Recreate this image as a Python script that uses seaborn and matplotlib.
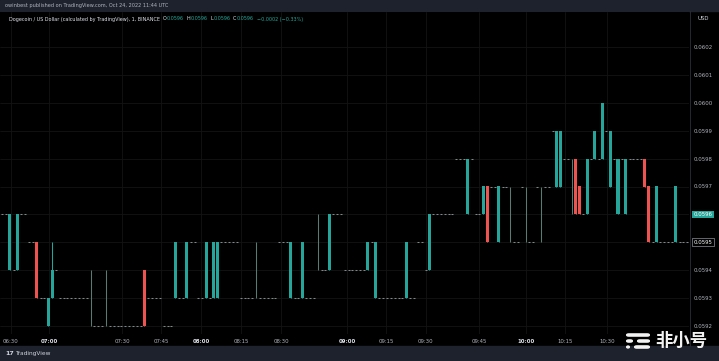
import numpy as np
import pandas as pd
import matplotlib
matplotlib.use("Agg")
import matplotlib.pyplot as plt
import matplotlib.transforms as mtransforms
from matplotlib.patches import Rectangle, FancyBboxPatch
from matplotlib.lines import Line2D
import seaborn as sns

# ---------------- data ----------------
# non-flat 1-minute candles: bar index, open, high, low, close
candle_idx = [2, 4, 9, 12, 13, 23, 27, 37, 45, 48, 53, 55, 56, 66, 75, 78, 82, 85,
              95, 97, 105, 111, 121, 125, 126, 129, 132, 136, 140, 144, 145, 148,
              149, 150, 152, 154, 156, 158, 160, 162, 167, 168, 170, 175]
candle_open = [0.0594, 0.0594, 0.0595, 0.0592, 0.0593, 0.0592, 0.0592, 0.0594, 0.0593,
               0.0593, 0.0593, 0.0593, 0.0593, 0.0593, 0.0593, 0.0593, 0.0594, 0.0594,
               0.0594, 0.0593, 0.0593, 0.0594, 0.0596, 0.0596, 0.0597, 0.0595, 0.0597,
               0.0595, 0.0597, 0.0597, 0.0597, 0.0598, 0.0598, 0.0597, 0.0596, 0.0598,
               0.0598, 0.0597, 0.0596, 0.0596, 0.0598, 0.0597, 0.0595, 0.0595]
candle_close = [0.0596, 0.0596, 0.0593, 0.0593, 0.0594, 0.0592, 0.0592, 0.0592, 0.0595,
                0.0595, 0.0595, 0.0595, 0.0595, 0.0593, 0.0595, 0.0595, 0.0594, 0.0596,
                0.0595, 0.0595, 0.0595, 0.0596, 0.0598, 0.0597, 0.0595, 0.0597, 0.0597,
                0.0595, 0.0597, 0.0599, 0.0599, 0.0598, 0.0596, 0.0596, 0.0598, 0.0599,
                0.0600, 0.0599, 0.0598, 0.0598, 0.0597, 0.0595, 0.0597, 0.0597]
candle_high = [0.0596, 0.0596, 0.0595, 0.0593, 0.0595, 0.0594, 0.0594, 0.0594, 0.0595,
               0.0595, 0.0595, 0.0595, 0.0595, 0.0595, 0.0595, 0.0595, 0.0596, 0.0596,
               0.0595, 0.0595, 0.0595, 0.0596, 0.0598, 0.0597, 0.0597, 0.0597, 0.0597,
               0.0597, 0.0597, 0.0599, 0.0599, 0.0598, 0.0598, 0.0597, 0.0598, 0.0599,
               0.0600, 0.0599, 0.0598, 0.0598, 0.0598, 0.0597, 0.0597, 0.0597]
candle_low = [0.0594, 0.0594, 0.0593, 0.0592, 0.0593, 0.0592, 0.0592, 0.0592, 0.0593,
              0.0593, 0.0593, 0.0593, 0.0593, 0.0593, 0.0593, 0.0593, 0.0594, 0.0594,
              0.0594, 0.0593, 0.0593, 0.0594, 0.0596, 0.0596, 0.0595, 0.0595, 0.0595,
              0.0595, 0.0595, 0.0597, 0.0597, 0.0596, 0.0596, 0.0596, 0.0596, 0.0598,
              0.0598, 0.0597, 0.0596, 0.0596, 0.0597, 0.0595, 0.0595, 0.0595]

# runs of flat candles (open = high = low = close)
flat_start = [0, 3, 5, 7, 10, 14, 15, 24, 28, 38, 42, 46, 49, 51, 54, 57, 62, 67, 72,
              76, 79, 83, 86, 89, 96, 98, 106, 108, 110, 112, 118, 122, 123, 127, 130,
              133, 135, 137, 139, 141, 143, 146, 151, 153, 155, 157, 159, 161, 163,
              169, 171, 176]
flat_end = [1, 3, 6, 8, 11, 14, 22, 26, 36, 41, 44, 47, 50, 52, 54, 61, 65, 71, 74,
            77, 81, 84, 88, 94, 96, 104, 107, 109, 110, 117, 120, 122, 124, 128, 131,
            134, 135, 138, 139, 142, 143, 147, 151, 153, 155, 157, 159, 161, 166,
            169, 174, 178]
flat_price = [0.0596, 0.0594, 0.0596, 0.0595, 0.0593, 0.0594, 0.0593, 0.0592, 0.0592,
              0.0593, 0.0592, 0.0593, 0.0595, 0.0593, 0.0593, 0.0595, 0.0593, 0.0593,
              0.0595, 0.0593, 0.0593, 0.0594, 0.0596, 0.0594, 0.0595, 0.0593, 0.0593,
              0.0595, 0.0594, 0.0596, 0.0598, 0.0598, 0.0596, 0.0597, 0.0597, 0.0595,
              0.0597, 0.0595, 0.0597, 0.0597, 0.0599, 0.0598, 0.0596, 0.0598, 0.0598,
              0.0599, 0.0598, 0.0598, 0.0598, 0.0595, 0.0595, 0.0595]

time_tick_bar = [2.3, 12.2, 31.2, 41.3, 51.7, 62.1, 72.5, 89.6, 99.7, 110.1, 123.9,
                 136.1, 146.2, 157.1]
time_tick_label = ["06:30", "07:00", "07:30", "07:45", "08:00", "08:15", "08:30",
                   "09:00", "09:15", "09:30", "09:45", "10:00", "10:15", "10:30"]
price_ticks = [0.0592, 0.0593, 0.0594, 0.0595, 0.0596, 0.0597, 0.0598, 0.0599,
               0.0600, 0.0601, 0.0602]
last_price = 0.0596
line_price = 0.0595

# ---------------- style ----------------
UP = "#26a69a"
DOWN = "#ef5350"
DOJI = "#5a7a74"
FLAT = "#7f8a8a"
TXT = "#b2b5be"
PANEL = "#1e222d"

sns.set_style("dark", {"axes.facecolor": "#000000", "figure.facecolor": "#000000"})
plt.rcParams["font.family"] = ["DejaVu Sans"]

W, H = 719, 361
fig = plt.figure(figsize=(W / 100, H / 100), dpi=100, facecolor="#000000")


def fx(x):
    return x / W


def fy(y):
    return 1 - y / H


top_px, bot_px, right_px = 12, 334, 689
ax = fig.add_axes([0, fy(bot_px), right_px / W, (bot_px - top_px) / H])
ax.set_facecolor("#000000")

# price scale: 0.0602 at y=47 px, 27.9 px per 0.0001
px_per_tick = 27.9
ax.set_ylim(0.0602 - (bot_px - 47) / px_per_tick * 1e-4,
            0.0602 + (47 - top_px) / px_per_tick * 1e-4)
bar_px = 3.85
ax.set_xlim(-2 / bar_px, (right_px - 2) / bar_px)

# flat candles
rows = [(i, p) for s, e, p in zip(flat_start, flat_end, flat_price)
        for i in range(s, e + 1)]
flats = pd.DataFrame(rows, columns=["bar", "price"])
sns.scatterplot(data=flats, x="bar", y="price", marker="_", s=2.4, linewidth=0.75,
                color=FLAT, ax=ax, legend=False, zorder=3)

# candles
cd = pd.DataFrame({"bar": candle_idx, "open": candle_open, "high": candle_high,
                   "low": candle_low, "close": candle_close})
cd["kind"] = np.where(np.isclose(cd["open"], cd["close"]), "doji",
                      np.where(cd["close"] > cd["open"], "up", "down"))
colmap = {"up": UP, "down": DOWN, "doji": DOJI}
cd["color"] = cd["kind"].map(colmap)
ax.vlines(cd["bar"], cd["low"], cd["high"], colors=cd["color"], lw=0.75, zorder=4)
body = cd[cd["kind"] != "doji"]
ax.bar(body["bar"], (body["close"] - body["open"]).abs(),
       bottom=np.minimum(body["open"], body["close"]), width=0.78,
       color=body["color"], linewidth=0, zorder=5)

# axes, grid
for sp in ax.spines.values():
    sp.set_visible(False)
ax.set_xlabel("")
ax.set_ylabel("")
ax.grid(True, color="#141414", lw=0.6)
ax.set_axisbelow(True)
ax.set_xticks(time_tick_bar)
ax.set_xticklabels(time_tick_label)
ax.tick_params(axis="x", length=0, pad=3.5, labelsize=3.9, colors=TXT)
for lab in ax.get_xticklabels():
    if lab.get_text().endswith(":00"):
        lab.set_fontweight("bold")
        lab.set_color("#e0e3eb")
ax.yaxis.tick_right()
ax.set_yticks(price_ticks)
ax.set_yticklabels(["" if np.isclose(p, last_price) or np.isclose(p, line_price)
                    else f"{p:.4f}" for p in price_ticks])
ax.tick_params(axis="y", length=0, pad=3, labelsize=3.9, colors=TXT)

blend = mtransforms.blended_transform_factory(ax.transAxes, ax.transData)
xlab = 1 + 4.5 / right_px
ax.text(xlab, last_price, f"{last_price:.4f}", transform=blend, ha="left",
        va="center", fontsize=3.9, color="#ffffff", clip_on=False,
        bbox=dict(boxstyle="square,pad=0.25", fc=UP, ec="none"))
ax.text(xlab, line_price, f"{line_price:.4f}", transform=blend, ha="left",
        va="center", fontsize=3.9, color="#ffffff", clip_on=False,
        bbox=dict(boxstyle="square,pad=0.25", fc="#000000", ec=TXT, lw=0.4))

# frame pieces
fig.add_artist(Rectangle((0, fy(11)), 1, 11 / H, transform=fig.transFigure,
                         color=PANEL, zorder=0))
fig.add_artist(Rectangle((0, 0), 1, (H - 346) / H, transform=fig.transFigure,
                         color=PANEL, zorder=0))
fig.add_artist(Line2D([fx(689.5), fx(689.5)], [fy(346), fy(11)],
                      transform=fig.transFigure, color="#2a2e39", lw=0.6))

# header texts
fig.text(fx(5), fy(6), "owinbest published on TradingView.com, Oct 24, 2022 11:44 UTC",
         fontsize=3.6, color=TXT, va="center", ha="left")
pieces = [("Dogecoin / US Dollar (calculated by TradingView), 1, BINANCE  ", "#e0e3eb"),
          ("O", "#e0e3eb"), ("0.0596", UP), ("  H", "#e0e3eb"), ("0.0596", UP),
          ("  L", "#e0e3eb"), ("0.0596", UP), ("  C", "#e0e3eb"), ("0.0596", UP),
          ("  \u22120.0002 (\u22120.33%)", UP)]
prev = fig.text(fx(9), fy(19), pieces[0][0], fontsize=3.55, color=pieces[0][1],
                va="center", ha="left")
for txt, col in pieces[1:]:
    prev = ax.annotate(txt, xy=(1, 0.5), xycoords=prev, va="center", ha="left",
                       fontsize=3.55, color=col, annotation_clip=False)
fig.text(fx(698), fy(18), "USD", fontsize=3.9, color="#d1d4dc", va="center", ha="left")

# bottom brand
fig.text(fx(5), fy(353.5), "17", fontsize=4.5, color="#d1d4dc", weight="bold",
         va="center", ha="left")
fig.text(fx(15), fy(353.5), "TradingView", fontsize=4.2, color="#d1d4dc",
         va="center", ha="left")

# watermark
for (x0, x1, yc) in [(626, 650, 335), (626, 633, 341), (637, 650, 341),
                     (626, 630, 347), (634, 650, 347)]:
    fig.add_artist(FancyBboxPatch((fx(x0), fy(yc + 1.8)), (x1 - x0) / W, 3.6 / H,
                                  boxstyle="round,pad=0,rounding_size=0.004",
                                  transform=fig.transFigure, fc="#f2f2f2", ec="none"))
fig.text(fx(655), fy(341), "非小号", fontsize=12.5, weight="bold", color="#f2f2f2",
         va="center", ha="left", family=["Noto Sans CJK SC", "DejaVu Sans"])

fig.savefig("out.png", dpi=100, facecolor=fig.get_facecolor())
